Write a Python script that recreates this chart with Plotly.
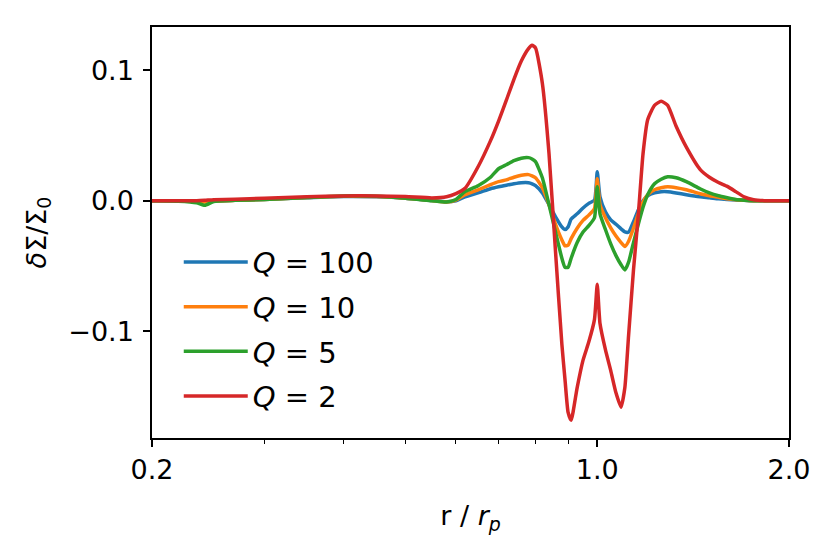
import plotly.graph_objects as go

# radius r / r_p
r = [0.20, 0.22, 0.235, 0.242, 0.25, 0.27, 0.30, 0.35, 0.40, 0.45,
     0.50, 0.55, 0.58, 0.60, 0.62, 0.65, 0.68, 0.70, 0.72, 0.74,
     0.76, 0.78, 0.79, 0.80, 0.82, 0.84, 0.86, 0.88, 0.89, 0.90,
     0.91, 0.93, 0.95, 0.97, 0.99, 1.00, 1.01, 1.03, 1.05, 1.07,
     1.09, 1.105, 1.12, 1.14, 1.16, 1.18, 1.20, 1.23, 1.26, 1.29,
     1.33, 1.38, 1.45, 1.50, 1.55, 1.60, 1.65, 1.70, 1.76, 1.85, 2.0]

q100 = [0, 0, -0.0003, -0.0006, -0.0002, 0.0003, 0.001, 0.0023, 0.0032, 0.003,
        0.002, 0.0002, -0.0008, 0.0, 0.003, 0.006, 0.0092, 0.0107, 0.0119, 0.013,
        0.0138, 0.0138, 0.013, 0.0115, 0.006, -0.003, -0.0123, -0.020, -0.022, -0.020,
        -0.014, -0.010, -0.0055, -0.002, 0.0005, 0.0222, 0.003, -0.0084, -0.0146, -0.018,
        -0.0215, -0.0238, -0.024, -0.016, -0.007, 0.0, 0.0038, 0.006, 0.0069, 0.0069,
        0.006, 0.0046, 0.003, 0.0023, 0.0015, 0.001, 0.0006, 0.0004, 0, 0, 0]

q10 = [0, 0, -0.0005, -0.001, -0.0003, 0.0003, 0.001, 0.0025, 0.0035, 0.0032,
       0.002, 0.0002, -0.001, 0.0005, 0.0046, 0.0084, 0.0123, 0.0146, 0.016, 0.018,
       0.0195, 0.020, 0.019, 0.0176, 0.010, -0.003, -0.018, -0.030, -0.0345, -0.034,
       -0.029, -0.021, -0.015, -0.011, -0.006, 0.0169, -0.003, -0.013, -0.0207, -0.027,
       -0.032, -0.035, -0.031, -0.021, -0.010, -0.001, 0.0046, 0.0084, 0.010, 0.0107,
       0.010, 0.0084, 0.0054, 0.0038, 0.0027, 0.0015, 0.0008, 0.0004, 0, 0, 0]

q5 = [0, -0.0003, -0.0015, -0.0035, -0.0006, 0.0003, 0.001, 0.0025, 0.0037, 0.0034,
      0.002, 0.0, -0.001, 0.001, 0.007, 0.0115, 0.018, 0.0245, 0.0276, 0.0307,
      0.0326, 0.033, 0.032, 0.030, 0.0176, -0.003, -0.024, -0.044, -0.051, -0.051,
      -0.044, -0.032, -0.024, -0.019, -0.013, 0.0107, -0.010, -0.022, -0.033, -0.042,
      -0.049, -0.053, -0.047, -0.032, -0.018, -0.005, 0.0046, 0.013, 0.0165, 0.0184,
      0.0176, 0.0146, 0.0092, 0.006, 0.0038, 0.0023, 0.001, 0.0004, 0, 0, 0]

q2 = [0, 0, 0.0, 0.0003, 0.0008, 0.0012, 0.002, 0.003, 0.0037, 0.0037,
      0.0032, 0.0022, 0.003, 0.0054, 0.0095, 0.026, 0.046, 0.061, 0.077, 0.093,
      0.107, 0.1165, 0.119, 0.117, 0.090, 0.036, -0.039, -0.110, -0.137, -0.162,
      -0.168, -0.143, -0.122, -0.108, -0.091, -0.064, -0.094, -0.114, -0.130, -0.147,
      -0.158, -0.143, -0.103, -0.053, -0.011, 0.036, 0.062, 0.073, 0.0762, 0.073,
      0.057, 0.041, 0.024, 0.018, 0.014, 0.011, 0.007, 0.003, 0.0008, 0, 0]

series_names = ["<i>Q</i> = 100", "<i>Q</i> = 10", "<i>Q</i> = 5", "<i>Q</i> = 2"]
series_vals = [q100, q10, q5, q2]
colors = ["#1f77b4", "#ff7f0e", "#2ca02c", "#d62728"]

x_tickvals = [0.2, 1.0, 2.0]
x_ticktext = ["0.2", "1.0", "2.0"]
x_minor = [0.3, 0.4, 0.5, 0.6, 0.7, 0.8, 0.9]
y_tickvals = [-0.1, 0.0, 0.1]
y_ticktext = ["\u22120.1", "0.0", "0.1"]

FONT = "DejaVu Sans"

fig = go.Figure()
for i, (name, vals, c) in enumerate(zip(series_names, series_vals, colors)):
    fig.add_trace(go.Scatter(x=r, y=vals, mode="lines", name=name,
                             legendgroup=str(i),
                             line=dict(color=c, width=3.5, shape="spline", smoothing=0.5)))

fig.update_layout(
    width=831, height=554,
    margin=dict(l=144, r=50, t=19, b=124),
    paper_bgcolor="white", plot_bgcolor="white",
    font=dict(family=FONT, size=27, color="black"),
    showlegend=True,
    legend=dict(x=0.042, y=0.49, xanchor="left", yanchor="top",
                bgcolor="rgba(255,255,255,0)", borderwidth=0,
                tracegroupgap=4, traceorder="grouped", itemwidth=64,
                font=dict(family=FONT, size=29)),
    xaxis=dict(type="log", range=[-0.69897, 0.30103],
               tickmode="array", tickvals=x_tickvals, ticktext=x_ticktext,
               ticks="outside", ticklen=7, tickwidth=1.5, tickcolor="black",
               showgrid=False, zeroline=False,
               showline=True, linecolor="black", linewidth=1.5, mirror=True,
               minor=dict(tickmode="array", tickvals=x_minor, ticks="outside",
                          ticklen=4, tickwidth=1.2, tickcolor="black", showgrid=False),
               title=dict(text="r / <i>r</i><sub><i>p</i></sub>", standoff=22,
                          font=dict(family=FONT, size=27))),
    yaxis=dict(range=[-0.1816, 0.133],
               tickmode="array", tickvals=y_tickvals, ticktext=y_ticktext,
               ticks="outside", ticklen=7, tickwidth=1.5, tickcolor="black",
               ticklabelstandoff=4,
               showgrid=False, zeroline=False,
               showline=True, linecolor="black", linewidth=1.5, mirror=True,
               title=dict(text="<i>δ</i>Σ/Σ<sub>0</sub>", standoff=14,
                          font=dict(family=FONT, size=27))),
)

fig.write_html("out.html")
